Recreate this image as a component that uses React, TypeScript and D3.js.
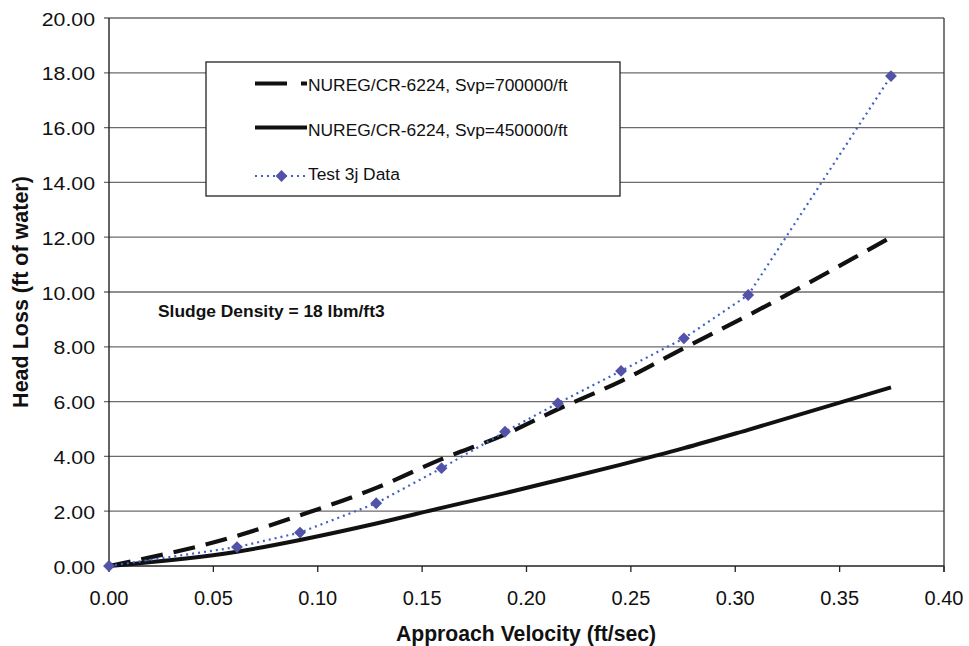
import React from "react";
import * as d3 from "d3";

const velocity = [0, 0.0613, 0.0915, 0.128, 0.1593, 0.1897, 0.215, 0.2453, 0.2754, 0.3062, 0.3746];
const svp700000 = [0, 1.1, 1.85, 2.85, 3.9, 4.8, 5.72, 6.75, 7.95, 9.15, 12.0];
const svp450000 = [0, 0.52, 0.95, 1.55, 2.12, 2.66, 3.13, 3.7, 4.3, 4.97, 6.52];
const test3j = [0, 0.69, 1.22, 2.29, 3.57, 4.9, 5.94, 7.12, 8.31, 9.89, 17.88];

const xTicks = [0, 0.05, 0.1, 0.15, 0.2, 0.25, 0.3, 0.35, 0.4];
const yTicks = [0, 2, 4, 6, 8, 10, 12, 14, 16, 18, 20];

const legendLabels = [
  "NUREG/CR-6224, Svp=700000/ft",
  "NUREG/CR-6224, Svp=450000/ft",
  "Test 3j Data",
];

const W = 969;
const H = 646;
const FONT = "'Liberation Sans', Arial, sans-serif";

export default function App() {
  const x = d3.scaleLinear().domain([0, 0.4]).range([109, 944]);
  const y = d3.scaleLinear().domain([0, 20]).range([566, 18]);

  const mk = (vals: number[], curve: d3.CurveFactory) =>
    d3
      .line<number>()
      .x((_, i) => x(velocity[i]))
      .y((d) => y(d))
      .curve(curve)(vals) as string;

  const diamond = d3.symbol().type(d3.symbolSquare).size(70)() as string;
  const gridColor = "#6e6a6a";
  const dotColor = "#4060c8";
  const markerColor = "#5252a8";

  return (
    <svg
      width={W}
      height={H}
      style={{ position: "absolute", left: 0, top: 0, display: "block", background: "#fff" }}
      fontFamily={FONT}
    >
      <rect x={0} y={0} width={W} height={H} fill="#fff" />
      {/* gridlines */}
      {yTicks.map((t) => (
        <line
          key={"g" + t}
          x1={104}
          x2={x(0.4)}
          y1={y(t)}
          y2={y(t)}
          stroke={t === 0 ? "#222" : gridColor}
          strokeWidth={1.3}
        />
      ))}
      {/* axes / frame */}
      <line x1={x(0)} x2={x(0)} y1={y(20)} y2={y(0)} stroke="#222" strokeWidth={1.4} />
      <line x1={x(0.4)} x2={x(0.4)} y1={y(20)} y2={y(0) + 6} stroke="#333" strokeWidth={1.3} />
      {xTicks.map((t) => (
        <line key={"xt" + t} x1={x(t)} x2={x(t)} y1={y(0)} y2={y(0) + 6} stroke="#222" strokeWidth={1.3} />
      ))}
      {/* y tick labels */}
      {yTicks.map((t) => (
        <text
          key={"yl" + t}
          transform={`translate(95,${y(t) + 7.5}) scale(1.12,1)`}
          textAnchor="end"
          fontSize={19}
          fill="#111"
        >
          {t.toFixed(2)}
        </text>
      ))}
      {/* x tick labels */}
      {xTicks.map((t) => (
        <text key={"xl" + t} x={x(t)} y={604.5} textAnchor="middle" fontSize={20} fill="#111">
          {t.toFixed(2)}
        </text>
      ))}
      {/* axis titles */}
      <text
        transform={`translate(28,292) rotate(-90)`}
        textAnchor="middle"
        fontSize={21.5}
        fontWeight="bold"
        fill="#111"
      >
        Head Loss (ft of water)
      </text>
      <text x={526} y={641} textAnchor="middle" fontSize={21.2} fontWeight="bold" fill="#111">
        Approach Velocity (ft/sec)
      </text>
      {/* annotation */}
      <text x={158} y={317} fontSize={17.4} fontWeight="bold" fill="#111">
        Sludge Density = 18 lbm/ft3
      </text>

      {/* series */}
      <path d={mk(svp450000, d3.curveMonotoneX)} fill="none" stroke="#111" strokeWidth={4} />
      <path
        d={mk(svp700000, d3.curveMonotoneX)}
        fill="none"
        stroke="#111"
        strokeWidth={4.2}
        strokeDasharray="22,11"
      />
      <path
        d={mk(test3j, d3.curveLinear)}
        fill="none"
        stroke={dotColor}
        strokeWidth={2.2}
        strokeDasharray="2,4"
      />
      {velocity.map((v, i) => (
        <path
          key={"m" + i}
          d={diamond}
          transform={`translate(${x(v)},${y(test3j[i])}) rotate(45)`}
          fill={markerColor}
        />
      ))}

      {/* legend */}
      <rect x={206} y={62} width={414} height={134} fill="#fff" stroke="#222" strokeWidth={1.3} />
      <line x1={255} x2={307} y1={83.5} y2={83.5} stroke="#111" strokeWidth={4.2} strokeDasharray="32,14" />
      <line x1={255} x2={307} y1={127.5} y2={127.5} stroke="#111" strokeWidth={4} />
      <line x1={255} x2={307} y1={176} y2={176} stroke={dotColor} strokeWidth={2.2} strokeDasharray="2,4" />
      <path d={diamond} transform={`translate(281.5,176) rotate(45)`} fill={markerColor} />
      {legendLabels.map((l, i) => (
        <text key={"lg" + i} x={308} y={[90.7, 136, 180][i]} fontSize={17.4} fill="#111">
          {l}
        </text>
      ))}
    </svg>
  );
}
